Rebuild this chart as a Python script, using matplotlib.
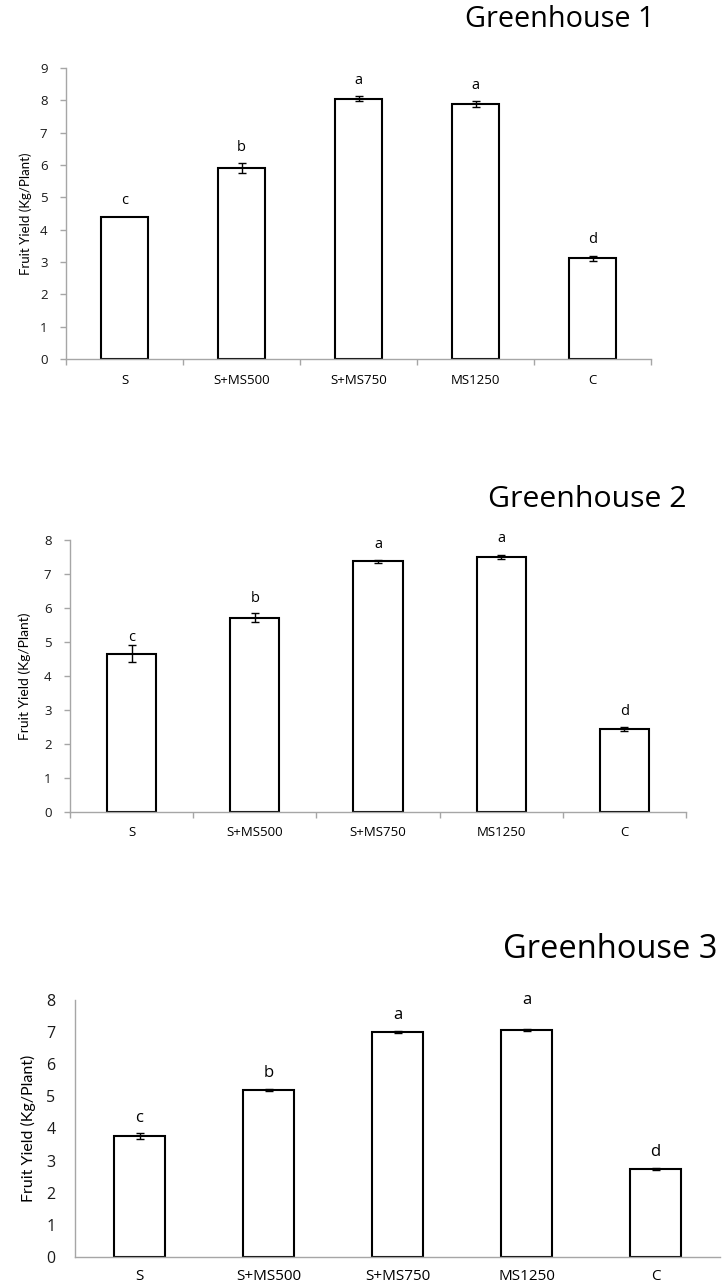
import matplotlib
matplotlib.use("Agg")
import matplotlib.pyplot as plt
import numpy as np

plt.rcParams['font.family'] = ['Open Sans', 'DejaVu Sans']

categories = ["S", "S+MS500", "S+MS750", "MS1250", "C"]
letters = ["c", "b", "a", "a", "d"]

gh1_values = [4.40, 5.90, 8.05, 7.89, 3.11]
gh1_errors = [0.0, 0.16, 0.07, 0.09, 0.09]

gh2_values = [4.66, 5.71, 7.37, 7.51, 2.44]
gh2_errors = [0.24, 0.13, 0.04, 0.06, 0.06]

gh3_values = [3.77, 5.20, 7.00, 7.08, 2.74]
gh3_errors = [0.09, 0.02, 0.04, 0.03, 0.03]

titles = ["Greenhouse 1", "Greenhouse 2", "Greenhouse 3"]
ylabel = "Fruit Yield (Kg/Plant)"

W, H = 725, 1287
fig = plt.figure(figsize=(W / 100, H / 100), dpi=100)


def fx(px):
    return px / W


def fy(py):
    return 1 - py / H


panels = [
    dict(left=66, right=651, top=68, bottom=359, vals=gh1_values, errs=gh1_errors, ymax=9,
         title_px=(465, 27), tfs=20.8, tickfs=9.5, lfs=9.5, label_x=26, xfs=9.5, letfs=10.5,
         ticks=True, xpad=11, ypad=9, let_off=[6, 6, 6, 6, 6]),
    dict(left=70, right=686, top=540, bottom=812, vals=gh2_values, errs=gh2_errors, ymax=8,
         title_px=(488, 507), tfs=21.8, tickfs=9.5, lfs=10, label_x=25, xfs=9.5, letfs=10.5,
         ticks=True, xpad=10, ypad=9, let_off=[0, 5, 6, 6, 6]),
    dict(left=75, right=720, top=1000, bottom=1257, vals=gh3_values, errs=gh3_errors, ymax=8,
         title_px=(503, 958), tfs=23.5, tickfs=11.5, lfs=11.5, label_x=28, xfs=11, letfs=12,
         ticks=False, xpad=9, ypad=14, let_off=[5, 6, 6, 15, 6]),
]

for i, p in enumerate(panels):
    rect = [fx(p["left"]), fy(p["bottom"]), fx(p["right"] - p["left"]),
            (p["bottom"] - p["top"]) / H]
    ax = fig.add_axes(rect)
    x = np.arange(len(categories))
    vals = np.array(p["vals"])
    errs = np.array(p["errs"])
    ax.bar(x, vals, width=0.4, color="white", edgecolor="black", linewidth=1.5, zorder=2)
    mask = errs > 0
    ax.errorbar(x[mask], vals[mask], yerr=errs[mask], fmt="none",
                ecolor="black", elinewidth=1.0, capsize=3, capthick=1.0, zorder=3)
    for xi, v, e, lt, off in zip(x, vals, errs, letters, p["let_off"]):
        ax.annotate(lt, (xi, v + e), xytext=(0, off), textcoords="offset points",
                    ha="center", va="bottom", fontsize=p["letfs"], color="black")
    ax.set_xlim(-0.5, len(categories) - 0.5)
    ax.set_ylim(0, p["ymax"])
    ax.set_yticks(range(0, p["ymax"] + 1))
    ax.set_xticks(x)
    ax.set_xticklabels(categories, fontsize=p["xfs"])
    ax.tick_params(axis="y", labelsize=p["tickfs"], color="#a6a6a6",
                   length=4.3 if p["ticks"] else 0, width=1.0,
                   labelcolor="#1a1a1a", pad=p["ypad"])
    ax.tick_params(axis="x", which="major", length=0, pad=p["xpad"], labelcolor="black")
    if p["ticks"]:
        ax.set_xticks(np.arange(-0.5, len(categories), 1.0), minor=True)
        ax.tick_params(axis="x", which="minor", length=4.3, width=1.0,
                       color="#a6a6a6", direction="out")
    for s in ["top", "right"]:
        ax.spines[s].set_visible(False)
    for s in ["left", "bottom"]:
        ax.spines[s].set_color("#a6a6a6")
        ax.spines[s].set_linewidth(1.0)
    fig.text(fx(p["label_x"]), fy((p["top"] + p["bottom"]) / 2), ylabel,
             rotation=90, ha="center", va="center", fontsize=p["lfs"],
             family=["Lato", "DejaVu Sans"], color="black")
    fig.text(fx(p["title_px"][0]), fy(p["title_px"][1]), titles[i], fontsize=p["tfs"],
             ha="left", va="baseline", color="black")

fig.savefig("out.png", dpi=100)
